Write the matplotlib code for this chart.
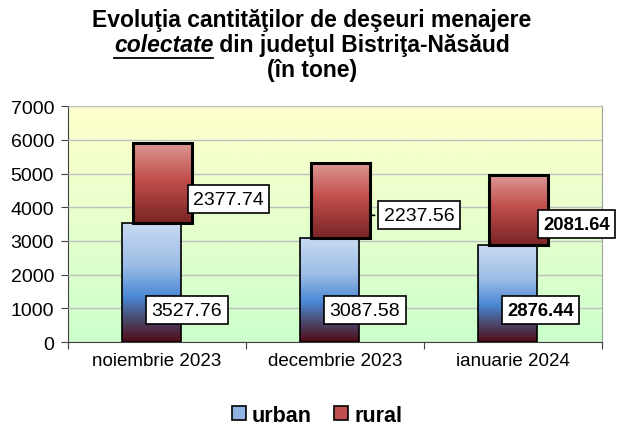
import numpy as np
import matplotlib
matplotlib.use("Agg")
import matplotlib.pyplot as plt
from matplotlib.colors import LinearSegmentedColormap
from matplotlib.patches import Rectangle, Patch
from matplotlib.lines import Line2D

plt.rcParams['font.family'] = ['Liberation Sans', 'DejaVu Sans']

# date
luni = ['noiembrie 2023', 'decembrie 2023', 'ianuarie 2024']
urban = [3527.76, 3087.58, 2876.44]
rural = [2377.74, 2237.56, 2081.64]
bold_labels = [False, False, True]

fig = plt.figure(figsize=(6.2, 4.27), dpi=100)
ax = fig.add_axes([0.1097, 0.1967, 0.861, 0.5523])

# fundal gradient galben -> verde
bg = LinearSegmentedColormap.from_list('bg', ['#ccffcc', '#ffffcc'])
ax.imshow(np.linspace(0, 1, 256).reshape(-1, 1)[::-1], cmap=bg, aspect='auto',
          extent=(0, 1, 0, 1), transform=ax.transAxes, zorder=0)

cm_urban = LinearSegmentedColormap.from_list(
    'urban', [(0, '#c8daf1'), (0.35, '#9dbde6'), (0.62, '#4a88d4'),
              (0.8, '#4a4c72'), (1, '#520a14')])
cm_rural = LinearSegmentedColormap.from_list(
    'rural', [(0, '#de9a96'), (0.45, '#c2504c'), (1, '#7a2426')])

grad = np.linspace(0, 1, 256).reshape(-1, 1)
w = 0.33
for i in range(len(luni)):
    # urban
    x0 = i - 0.03 - w / 2
    ax.imshow(grad, cmap=cm_urban, aspect='auto', zorder=3,
              extent=(x0, x0 + w, 0, urban[i]))
    ax.add_patch(Rectangle((x0, 0), w, urban[i], fill=False, ec='black', lw=1.2, zorder=4))
    # rural
    x1 = i + 0.03 - w / 2
    ax.imshow(grad, cmap=cm_rural, aspect='auto', zorder=3,
              extent=(x1, x1 + w, urban[i], urban[i] + rural[i]))
    ax.add_patch(Rectangle((x1, urban[i]), w, rural[i], fill=False, ec='black', lw=2.2, zorder=4))

ax.set_xlim(-0.5, 2.5)
ax.set_ylim(0, 7000)
ax.set_yticks(range(0, 7001, 1000))
ax.yaxis.grid(True, color='#c0c0c0', lw=1)
ax.set_axisbelow(False)
for gl in ax.get_ygridlines():
    gl.set_zorder(1)

ax.set_xticks([-0.5, 0.5, 1.5, 2.5])
ax.set_xticklabels([])
ax.set_xticks(range(3), minor=True)
ax.set_xticklabels(luni, minor=True, fontsize=13.5)
ax.tick_params(axis='x', which='minor', length=0, pad=7)
ax.tick_params(axis='x', which='major', length=5, color='#404040')
ax.tick_params(axis='y', length=5, labelsize=14, pad=5, color='#404040')

ax.spines['top'].set_color('#a0a0a0')
ax.spines['right'].set_color('#a0a0a0')
ax.spines['left'].set_color('#404040')
ax.spines['bottom'].set_color('#404040')

# etichete
box = dict(boxstyle='square,pad=0.28', fc='white', ec='black', lw=1.2)
rural_dx = [1, 10, -3]
for i in range(len(luni)):
    fw = 'bold' if bold_labels[i] else 'normal'
    fsz = 13.3 if bold_labels[i] else 14
    ax.annotate(f'{urban[i]:.2f}', (i - 0.03, 950), xytext=(0, 0),
                textcoords='offset points', ha='left', va='center',
                fontsize=fsz, fontweight=fw, bbox=box, zorder=6)
    xr = i + 0.03 + w / 2
    yr = urban[i] + 0.3 * rural[i]
    ax.annotate(f'{rural[i]:.2f}', (xr, yr), xytext=(rural_dx[i], 0),
                textcoords='offset points', ha='left', va='center',
                fontsize=fsz, fontweight=fw, bbox=box, zorder=6, annotation_clip=False,
                arrowprops=dict(arrowstyle='-', color='black', lw=1.2) if i == 1 else None)

# titlu
fs = 16.5
fig.text(0.503, 0.953, 'Evoluţia cantităţilor de deşeuri menajere', ha='center', va='center',
         fontsize=fs, fontweight='bold')
fig.text(0.503, 0.834, '(în tone)', ha='center', va='center', fontsize=fs, fontweight='bold')
fig.canvas.draw()
r = fig.canvas.get_renderer()
t1 = fig.text(0, 0.893, 'colectate', fontsize=fs, fontweight='bold', style='italic',
              va='center', ha='left')
t2 = fig.text(0, 0.893, ' din judeţul Bistriţa-Năsăud', fontsize=fs, fontweight='bold',
              va='center', ha='left')
w1 = t1.get_window_extent(r).width / fig.bbox.width
w2 = t2.get_window_extent(r).width / fig.bbox.width
start = 0.503 - (w1 + w2) / 2
t1.set_x(start)
t2.set_x(start + w1)
fig.add_artist(Line2D([start, start + w1], [0.862, 0.862], color='black', lw=1.3,
                      transform=fig.transFigure))

# legenda
handles = [Patch(fc='#8fb4e3', ec='black', lw=1.2), Patch(fc='#c0504d', ec='black', lw=1.2)]
fig.legend(handles, ['urban', 'rural'], loc='center', bbox_to_anchor=(0.511, 0.025), ncol=2,
           frameon=False, prop={'weight': 'bold', 'size': 15.5}, handlelength=0.65,
           handleheight=0.65, handletextpad=0.3, columnspacing=1.0)

fig.savefig('out.png', dpi=100)
